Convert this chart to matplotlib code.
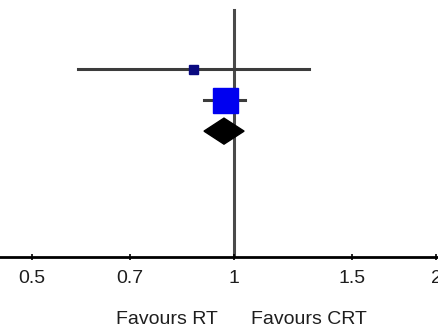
import numpy as np
import matplotlib
matplotlib.use("Agg")
import matplotlib.pyplot as plt

plt.rcParams['font.family'] = ['Liberation Sans', 'DejaVu Sans']

# study estimates (ratio scale) with 95% CI
est = [0.87, 0.97]
lo = [0.586, 0.902]
hi = [1.293, 1.038]
box_size = [9, 25]          # marker size in px, reflects study weight
box_color = ['#0a0a80', '#0000f0']
rows = [1, 2]

# pooled estimate
pooled_est, pooled_lo, pooled_hi = 0.966, 0.902, 1.035
pooled_row = 3

ticks = [0.5, 0.7, 1, 1.5, 2]
tick_labels = ['0.5', '0.7', '1', '1.5', '2']

fig = plt.figure(figsize=(4.38, 3.31), dpi=100)
ax = fig.add_axes([0, 74/331, 1, 257/331])
ax.set_xscale('log')
ax.set_xlim(0.448, 2.013)
ax.set_ylim(7.06, -1.23)

# line of no effect
ax.plot([1, 1], [-0.9, 7.06], color='#4a4a4a', lw=2.2, zorder=1)

for r, e, l, h, s, c in zip(rows, est, lo, hi, box_size, box_color):
    ax.plot([l, h], [r, r], color='#3c3c3c', lw=2.2, zorder=2)
    ax.plot(e, r, marker='s', ms=s * 0.72, color=c, mec=c, zorder=3)

dh = 0.42
ax.fill([pooled_lo, pooled_est, pooled_hi, pooled_est],
        [pooled_row, pooled_row - dh, pooled_row, pooled_row + dh],
        color='black', zorder=3)

for side in ['left', 'right', 'top']:
    ax.spines[side].set_visible(False)
ax.spines['bottom'].set_linewidth(2)
ax.set_yticks([])
ax.set_xticks(ticks)
ax.set_xticklabels(tick_labels)
ax.xaxis.set_minor_locator(matplotlib.ticker.NullLocator())
ax.tick_params(axis='x', direction='inout', length=5, width=1.2,
               labelsize=14, pad=7, labelcolor='#1e1e1e')

ax.annotate('Favours RT', xy=(1, 0), xycoords=('data', 'axes fraction'),
            xytext=(-16, -62), textcoords='offset pixels', ha='right', va='center',
            fontsize=14, color='#1e1e1e')
ax.annotate('Favours CRT', xy=(1, 0), xycoords=('data', 'axes fraction'),
            xytext=(17, -62), textcoords='offset pixels', ha='left', va='center',
            fontsize=14, color='#1e1e1e')

fig.savefig('out.png', dpi=100)
